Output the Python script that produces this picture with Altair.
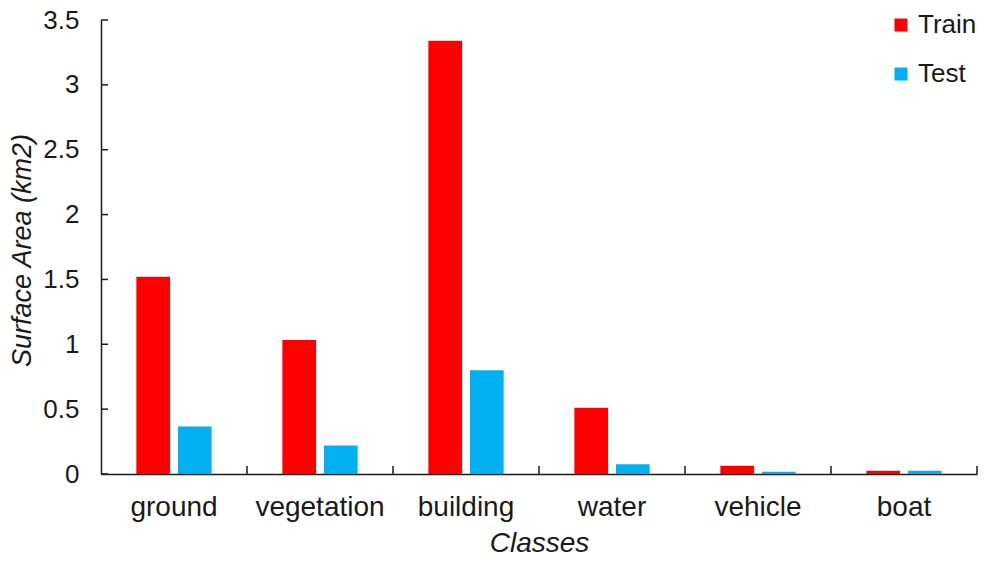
import altair as alt
import pandas as pd

categories = ["ground", "vegetation", "building", "water", "vehicle", "boat"]
train = [1.52, 1.034, 3.34, 0.51, 0.063, 0.025]
test = [0.367, 0.22, 0.80, 0.075, 0.018, 0.025]
series = ["Train", "Test"]
colors = ["#FF0000", "#00B0F0"]
y_ticks = [0, 0.5, 1, 1.5, 2, 2.5, 3, 3.5]

rows = []
for c, a, b in zip(categories, train, test):
    rows.append({"cat": c, "series": "Train", "value": a})
    rows.append({"cat": c, "series": "Test", "value": b})
df = pd.DataFrame(rows)
df_cat = pd.DataFrame({"cat": categories})
df_yt = pd.DataFrame({"value": y_ticks})

W, H = 876, 454
FONT = "Liberation Sans"
INK = "#1a1a1a"

xscale = alt.Scale(domain=categories, paddingInner=0, paddingOuter=0)
yscale = alt.Scale(domain=[0, 3.5], nice=False)

bars = alt.Chart(df).mark_bar().encode(
    x=alt.X("cat:N", scale=xscale, sort=categories,
            axis=alt.Axis(title="Classes", labelAngle=0, labelFontSize=28,
                          labelPadding=19, ticks=False, tickSize=0,
                          domainColor=INK, domainWidth=1.5, labelColor=INK,
                          titleFontSize=28, titleFontStyle="italic",
                          titleFontWeight="normal", titleBaseline="alphabetic",
                          titleY=77, titleColor=INK, labelFont=FONT, titleFont=FONT)),
    xOffset=alt.XOffset("series:N", sort=series,
                        scale=alt.Scale(domain=series, paddingInner=0.19, paddingOuter=0.85)),
    y=alt.Y("value:Q", scale=yscale,
            axis=alt.Axis(title="Surface Area (km2)", values=y_ticks, format="~g",
                          grid=False, ticks=False, tickSize=0, labelPadding=22,
                          labelFontSize=26, labelColor=INK, domainColor=INK,
                          domainWidth=1.5, titleFontSize=27, titleFontStyle="italic",
                          titleFontWeight="normal", titleColor=INK,
                          titleX=-79, titleY=H / 2 + 3, titleAlign="center",
                          titleBaseline="middle", titleAngle=270,
                          labelFont=FONT, titleFont=FONT)),
    color=alt.Color("series:N", sort=series,
                    scale=alt.Scale(domain=series, range=colors),
                    legend=alt.Legend(title=None, orient="none", legendX=787, legendY=-8,
                                      direction="vertical", symbolType="square",
                                      symbolSize=169, symbolStrokeWidth=0,
                                      labelFontSize=26, labelFont=FONT, labelColor=INK,
                                      rowPadding=23, labelOffset=4, padding=0)),
)

ytick = alt.Chart(df_yt).mark_rule(color=INK, strokeWidth=1.5).encode(
    y=alt.Y("value:Q", scale=yscale),
    x=alt.value(0),
    x2=alt.value(7),
)

xtick = alt.Chart(df_cat).mark_rule(color=INK, strokeWidth=1.5).encode(
    x=alt.X("cat:N", scale=xscale, sort=categories, bandPosition=1),
    y=alt.value(H - 8),
    y2=alt.value(H),
)

chart = alt.layer(bars, ytick, xtick).properties(
    width=W, height=H,
    autosize=alt.AutoSizeParams(type="none"),
    padding={"left": 93, "top": 12, "right": 2, "bottom": 82},
).configure(font=FONT, background="white", view=alt.ViewConfig(stroke=None))

chart.save("out.html", embed_options={"renderer": "svg", "actions": False})
